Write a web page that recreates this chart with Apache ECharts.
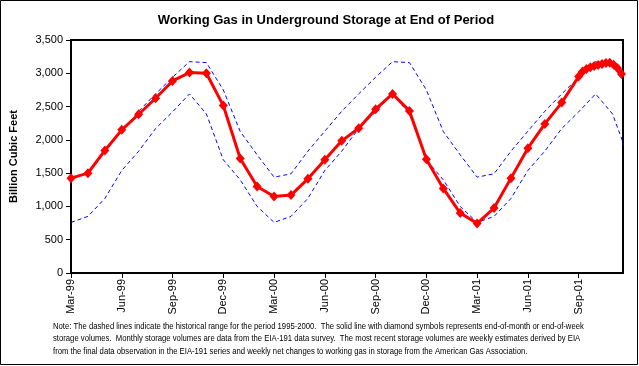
<!DOCTYPE html>
<html>
<head>
<meta charset="utf-8">
<script src="https://cdn.jsdelivr.net/npm/echarts@6/dist/echarts.min.js"></script>
<style>
html,body{margin:0;padding:0;background:#fff;}
#c{width:639px;height:366px;}
</style>
</head>
<body>
<div id="c"></div>
<script>
// Tick labels every 3 months (index 0 = Mar-99)
var tickLabels = ['Mar-99','Jun-99','Sep-99','Dec-99','Mar-00','Jun-00','Sep-00','Dec-00','Mar-01','Jun-01','Sep-01'];
// End-of-month storage, Mar-99 .. Sep-01 (index = months since Mar-99)
var monthlyStorage = [1425,1500,1840,2150,2385,2625,2885,3010,3000,2515,1720,1300,1150,1170,1415,1700,1985,2175,2460,2690,2435,1710,1270,900,745,975,1425,1875,2240,2560,2950];
// Weekly estimates after Sep-01 (position in months since Mar-99)
var weeklyPos = [30.23,30.46,30.69,30.92,31.15,31.38,31.61,31.84,32.07,32.30,32.53];
var weeklyStorage = [3025,3065,3090,3110,3125,3140,3155,3160,3130,3075,2990];
// Historical range 1995-2000, monthly from Mar-99 to Dec-01
var histMax = [1440,1490,1830,2130,2430,2690,2940,3175,3160,2750,2125,1775,1440,1490,1830,2130,2430,2690,2940,3175,3160,2750,2125,1775,1440,1490,1830,2130,2430,2690,2940,3175,3160,2750];
var histMin = [760,850,1120,1540,1830,2170,2420,2690,2390,1700,1400,1000,760,850,1120,1540,1830,2170,2420,2690,2390,1700,1400,1000,760,850,1120,1540,1830,2170,2420,2690,2390,1700];

var noteLines = [
 'Note: The dashed lines indicate the historical range for the period 1995-2000.  The solid line with diamond symbols represents end-of-month or end-of-week',
 'storage volumes.  Monthly storage volumes are data from the EIA-191 data survey.  The most recent storage volumes are weekly estimates derived by EIA',
 'from the final data observation in the EIA-191 series and weekly net changes to working gas in storage from the American Gas Association.'
];

var redData = monthlyStorage.map(function(v,i){return [i,v];});
weeklyPos.forEach(function(p,i){redData.push([p,weeklyStorage[i]]);});
var maxData = histMax.map(function(v,i){return [i,v];});
var minData = histMin.map(function(v,i){return [i,v];});

var chart = echarts.init(document.getElementById('c'), null, {renderer:'canvas'});
var font = 'Liberation Sans, Arial, sans-serif';
chart.setOption({
  animation:false,
  backgroundColor:'#fff',
  title:{
    text:'Working Gas in Underground Storage at End of Period',
    left:321, top:9, textAlign:'center',
    textStyle:{fontFamily:font, fontSize:13, fontWeight:'bold', color:'#000'}
  },
  grid:{left:71, right:16, top:40, bottom:93, show:true, borderColor:'#000', borderWidth:2, backgroundColor:'#fff'},
  xAxis:{
    type:'value', min:0, max:32.62, interval:3,
    axisLine:{show:true, onZero:false, lineStyle:{color:'#000', width:2}},
    axisTick:{show:true, length:5, lineStyle:{color:'#000'}},
    splitLine:{show:false},
    axisLabel:{rotate:90, fontFamily:font, fontSize:11, color:'#000', margin:6,
      showMaxLabel:false,
      formatter:function(v){var k=Math.round(v/3);return tickLabels[k]||'';}}
  },
  yAxis:{
    type:'value', min:0, max:3500, interval:500,
    name:'Billion Cubic Feet', nameLocation:'middle', nameGap:52, nameRotate:90,
    nameTextStyle:{fontFamily:font, fontSize:11, fontWeight:'bold', color:'#000'},
    axisLine:{show:true, lineStyle:{color:'#000', width:2}},
    axisTick:{show:true, length:5, lineStyle:{color:'#000'}},
    splitLine:{show:false},
    axisLabel:{fontFamily:font, fontSize:11, color:'#000', margin:8,
      formatter:function(v){return v.toLocaleString('en-US');}}
  },
  series:[
    {type:'line', data:maxData, symbol:'none', clip:true,
      lineStyle:{color:'#0000FF', width:1, type:[4,3]}},
    {type:'line', data:minData, symbol:'none', clip:true,
      lineStyle:{color:'#0000FF', width:1, type:[4,3]}},
    {type:'line', data:redData, symbol:'diamond', symbolSize:[9,10], clip:false,
      itemStyle:{color:'#FF0000'}, lineStyle:{color:'#FF0000', width:3}}
  ],
  graphic:[
    {type:'rect', shape:{x:0.5,y:0.5,width:637,height:364}, style:{fill:null, stroke:'#000', lineWidth:1}, silent:true},
    {type:'text', x:53, y:320, scaleX:0.855, style:{text:noteLines.join('\n'), fontFamily:font, fontSize:9, lineHeight:12.5, fill:'#000'}}
  ]
});
</script>
</body>
</html>
